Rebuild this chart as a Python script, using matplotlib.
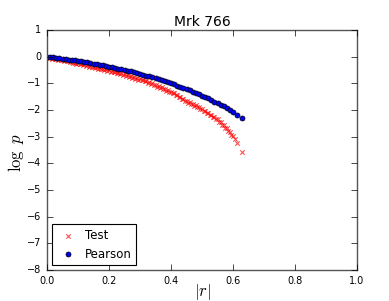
import matplotlib
matplotlib.use("Agg")
import matplotlib.pyplot as plt

plt.style.use("classic")

title = "Mrk 766"
xticks = [0.0, 0.2, 0.4, 0.6, 0.8, 1.0]
yticks = [-8, -7, -6, -5, -4, -3, -2, -1, 0, 1]

pearson_r = [0.00, 0.01, 0.02, 0.03, 0.04, 0.05, 0.06, 0.07, 0.08, 0.09,
             0.10, 0.11, 0.12, 0.13, 0.14, 0.15, 0.16, 0.17, 0.18, 0.19,
             0.20, 0.21, 0.22, 0.23, 0.24, 0.25, 0.26, 0.27, 0.28, 0.29,
             0.30, 0.31, 0.32, 0.33, 0.34, 0.35, 0.36, 0.37, 0.38, 0.39,
             0.40, 0.41, 0.42, 0.43, 0.44, 0.45, 0.46, 0.47, 0.48, 0.49,
             0.50, 0.51, 0.52, 0.53, 0.54, 0.55, 0.56, 0.57, 0.58, 0.59,
             0.60, 0.613, 0.628]
pearson_logp = [0.000, -0.014, -0.028, -0.044, -0.059, -0.075, -0.090, -0.107, -0.124, -0.141,
                -0.159, -0.178, -0.197, -0.217, -0.237, -0.258, -0.279, -0.301, -0.323, -0.346,
                -0.370, -0.395, -0.420, -0.445, -0.472, -0.499, -0.527, -0.555, -0.585, -0.615,
                -0.645, -0.676, -0.709, -0.742, -0.776, -0.810, -0.847, -0.883, -0.920, -0.959,
                -1.000, -1.041, -1.082, -1.125, -1.170, -1.215, -1.262, -1.310, -1.359, -1.409,
                -1.460, -1.513, -1.568, -1.624, -1.683, -1.743, -1.805, -1.868, -1.934, -2.001,
                -2.070, -2.170, -2.290]

test_r = [0.000, 0.005, 0.010, 0.015, 0.020, 0.025, 0.030, 0.035, 0.040, 0.045,
          0.050, 0.055, 0.060, 0.065, 0.070, 0.075, 0.080, 0.085, 0.090, 0.095,
          0.100, 0.105, 0.110, 0.115, 0.120, 0.125, 0.130, 0.135, 0.140, 0.145,
          0.150, 0.155, 0.160, 0.165, 0.170, 0.175, 0.180, 0.185, 0.190, 0.195,
          0.200, 0.205, 0.210, 0.215, 0.220, 0.225, 0.230, 0.235, 0.240, 0.245,
          0.250, 0.255, 0.260, 0.265, 0.270, 0.275, 0.280, 0.285, 0.290, 0.295,
          0.300, 0.305, 0.310, 0.315, 0.320, 0.325, 0.330, 0.335, 0.340, 0.345,
          0.350, 0.355, 0.360, 0.365, 0.370, 0.375, 0.380, 0.385, 0.390, 0.395,
          0.400, 0.405, 0.410, 0.415, 0.420, 0.425, 0.430, 0.435, 0.440, 0.445,
          0.450, 0.455, 0.460, 0.465, 0.470, 0.475, 0.480, 0.485, 0.490, 0.495,
          0.500, 0.505, 0.510, 0.515, 0.520, 0.525, 0.530, 0.535, 0.540, 0.545,
          0.550, 0.555, 0.560, 0.565, 0.570, 0.575, 0.580, 0.585, 0.590, 0.595,
          0.600, 0.606, 0.612, 0.628]
test_logp = [-0.02, -0.06, -0.04, -0.08, -0.06, -0.10, -0.08, -0.12, -0.10, -0.14,
             -0.12, -0.16, -0.14, -0.18, -0.17, -0.21, -0.19, -0.23, -0.22, -0.26,
             -0.24, -0.28, -0.27, -0.31, -0.29, -0.34, -0.32, -0.37, -0.35, -0.40,
             -0.38, -0.42, -0.40, -0.45, -0.43, -0.48, -0.46, -0.51, -0.48, -0.54,
             -0.51, -0.56, -0.54, -0.59, -0.57, -0.62, -0.60, -0.65, -0.63, -0.68,
             -0.66, -0.72, -0.69, -0.75, -0.73, -0.79, -0.76, -0.82, -0.80, -0.86,
             -0.83, -0.89, -0.87, -0.93, -0.91, -0.97, -0.96, -1.02, -1.00, -1.07,
             -1.05, -1.12, -1.10, -1.17, -1.15, -1.22, -1.20, -1.27, -1.25, -1.32,
             -1.31, -1.38, -1.37, -1.44, -1.44, -1.52, -1.51, -1.59, -1.58, -1.66,
             -1.65, -1.72, -1.71, -1.78, -1.77, -1.84, -1.83, -1.90, -1.89, -1.96,
             -1.95, -2.03, -2.02, -2.10, -2.10, -2.18, -2.18, -2.26, -2.26, -2.34,
             -2.34, -2.44, -2.45, -2.55, -2.56, -2.66, -2.69, -2.80, -2.84, -2.93,
             -2.98, -3.10, -3.25, -3.56]

fig = plt.figure(figsize=(3.89, 3.01), dpi=100, facecolor="white")
ax = fig.add_axes([47/389, 31/301, 310/389, 240/301])

ax.scatter(test_r, test_logp, marker="x", c="r", s=10, linewidths=0.8,
           alpha=0.7, label="Test")
ax.scatter(pearson_r, pearson_logp, marker="o", c="b", s=13, edgecolors="k",
           linewidths=0.5, label="Pearson")

ax.set_xlim(0, 1)
ax.set_ylim(-8, 1)
ax.set_xticks(xticks)
ax.set_yticks(yticks)
ax.tick_params(labelsize=7, length=4, width=0.5)
for sp in ax.spines.values():
    sp.set_linewidth(1.0)
    sp.set_color("#555555")

ax.set_title(title, fontsize=10, pad=3)
ax.set_xlabel(r"$|r|$", fontsize=12)
ax.xaxis.label.set_va("center")
ax.xaxis.set_label_coords(0.5, -0.092)
ax.set_ylabel(r"$\log\ p$", fontsize=12)
ax.yaxis.label.set_va("center")
ax.yaxis.set_label_coords(-0.1, 0.49)

leg = ax.legend(loc="lower left", scatterpoints=1, fontsize=8.5,
                borderaxespad=0.4, handletextpad=0.4, fancybox=False)
leg.get_frame().set_linewidth(0.8)

fig.savefig("out.png", dpi=100, facecolor="white")
